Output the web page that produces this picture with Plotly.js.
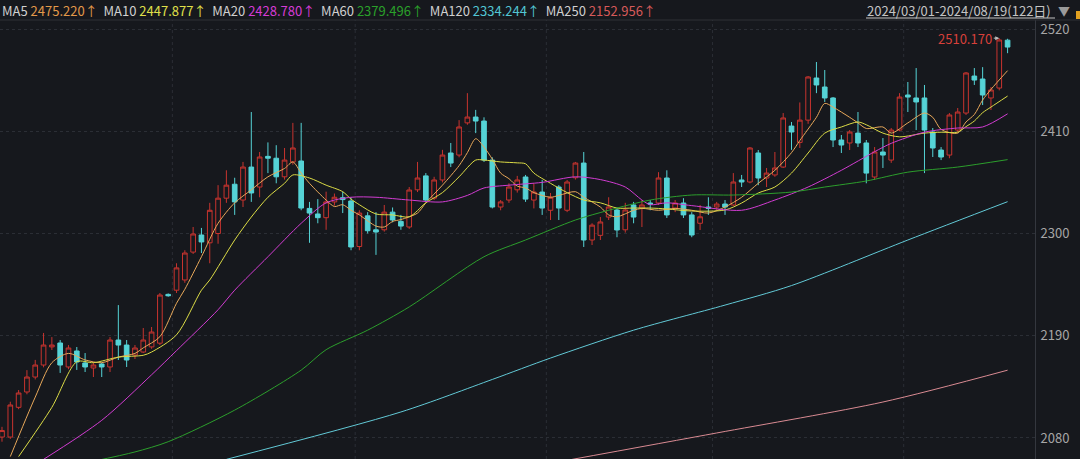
<!DOCTYPE html>
<html><head><meta charset="utf-8">
<script src="https://cdn.plot.ly/plotly-3.0.1.min.js"></script>
<style>html,body{margin:0;padding:0;background:#16181d;}#chart{width:1080px;height:459px;}</style>
</head><body><div id="chart"></div>
<script>
// ---- data ----
const openP  = [2081,2081,2113,2129.5,2145.6,2158.5,2178,2182.2,2156.4,2173.6,2160.7,2155.3,2159.6,2156.4,2185.4,2180,2169.3,2172.5,2178,2182,2234.5,2239,2250,2280,2298.4,2290,2300,2338,2353,2336,2371.5,2350,2383,2381,2361,2377,2378,2327,2321,2317,2334,2338.5,2335,2286,2319,2304,2304,2323,2313,2307,2347,2362,2338,2357.6,2386.6,2384.4,2419,2425.3,2421,2379,2328.5,2336,2347,2360.8,2336,2344.6,2325,2350,2325,2360,2375.8,2293,2298,2317.7,2325.3,2304,2330.7,2327.4,2332.8,2332.8,2359.7,2327.4,2332.8,2320,2311,2328.5,2328.5,2331.7,2330.7,2357.6,2355.4,2386.6,2359.7,2363,2371.5,2415.6,2398,2422,2467.3,2457.6,2445.8,2400.6,2397.4,2408,2397.4,2360.8,2387.7,2379,2411.3,2449,2445.8,2445.8,2409.2,2389.8,2384.4,2411.3,2429.6,2469.4,2466.2,2445.8,2456.5,2508];
const highP  = [2092,2119,2131.6,2153,2164,2193,2188.6,2185.4,2180,2177.9,2171.4,2161.8,2160.7,2188.6,2223,2185.4,2180,2198.3,2199.4,2236,2235.5,2268,2282,2307,2306,2333,2352,2368,2360,2377,2430.7,2387.7,2398,2395,2392,2419,2419,2334,2337,2345,2343,2345,2339,2325,2323,2323,2330.7,2328,2320,2350,2377,2365,2361,2390,2397.4,2422,2451,2433,2425,2382,2336,2354,2362,2363,2354,2357.6,2343.6,2352,2357.6,2377,2387.7,2311,2317.7,2339,2327.4,2333,2334,2336,2336,2366,2368,2336,2338,2323,2330.7,2339,2334,2336,2365,2363,2393,2389.8,2370.5,2387.7,2429.6,2420,2441,2469.4,2484.5,2475.9,2446.8,2406,2411.3,2430.7,2400.6,2393,2402.7,2413.5,2451,2463,2478,2459.8,2413.5,2393,2429.6,2435,2473.7,2478,2479,2457.6,2510.17,2509.5];
const lowP   = [2076,2079,2111,2127,2143,2156,2174.7,2150,2154,2153.2,2151,2145.6,2145.6,2151,2163.9,2156.4,2165,2171.4,2176,2180,2232,2236,2247,2278,2279,2268,2289,2333,2320,2328.5,2334,2339,2365,2354,2358,2374,2325,2290,2311,2304,2330,2322,2282,2282,2300,2277,2302,2312,2304,2305,2344.6,2334,2336,2355,2371.5,2382,2417,2408,2377,2327,2325,2333,2344,2334,2327,2320,2314.5,2314.5,2323,2358,2285.5,2287.6,2293,2314.5,2296,2301,2311,2307,2325,2330.7,2316.7,2323,2316.7,2296,2303.8,2320,2325,2320,2329.6,2350,2354,2352,2350,2361,2370.5,2390,2392,2418,2451,2441.5,2393,2386.6,2389.8,2393,2354,2357.6,2370.5,2376,2410,2430.7,2411.3,2365,2382.3,2379,2381,2409,2427.5,2459.8,2438.2,2432.9,2454,2494];
const closeP = [2088,2115.5,2128.4,2145.6,2158.5,2180,2180,2158.5,2176.8,2161.8,2156.4,2158.5,2156.4,2185.4,2180,2163.9,2176.8,2185.4,2194,2233.8,2233,2263,2279,2299.5,2290.9,2325,2338,2352,2334,2371.5,2343.6,2382.3,2381,2361,2379,2392,2327.4,2322,2317,2334,2339,2336.5,2285.5,2322,2303,2301.6,2323,2314.5,2308,2346.8,2359.7,2336,2357.6,2384.4,2375.8,2414.6,2425.3,2421,2379,2328.5,2334,2350,2357.6,2337,2344.6,2327.4,2339,2327.4,2355.4,2375.8,2293,2309,2312.4,2328.5,2303.8,2325.3,2317.7,2330.7,2331.7,2359.7,2320,2332.8,2320,2298.4,2318,2327,2331.7,2328.5,2355.4,2355.4,2392,2359.7,2365,2370.5,2424.3,2409.2,2422,2468.4,2459.8,2445.8,2400.6,2395.2,2409.2,2397.4,2365,2387.7,2384.4,2411.3,2446.8,2446.8,2441.5,2411.3,2392,2382.3,2427.5,2430.7,2472.7,2465.1,2449,2454.4,2508.2,2500.6];

// moving-average lines at candle indices
const ma5Idx = [1,4,6,8,10,12,14,16,17,19,21,22,24,26,28,30,32,34,35,36,37,39,40,41,42,43,45,46,47,48,50,51,53,55,56,57,58,59,60,61,62,63,64,66,67,69,70,72,73,74,76,77,79,81,83,85,87,89,91,93,95,96,98,99,100,102,103,104,106,107,109,111,112,113,115,116,117,118,119,121];
const ma5Val = [2060,2124,2161,2171,2164,2161,2167,2171,2177,2189,2225,2240,2275,2311,2333,2347,2361,2370,2377,2365,2354,2336,2329,2331,2325,2320,2308,2307,2313,2315,2322,2333,2352,2373,2387,2402,2393,2380,2365,2359,2351,2349,2344,2339,2341,2345,2339,2328.5,2320,2318,2325,2327,2325,2327,2325,2322,2328.5,2339,2354,2368,2387,2400,2425,2440,2436,2425,2419,2413,2414.6,2408,2419,2429.6,2425,2412,2408,2420,2428,2443.6,2455,2475.22];
const ma10Idx = [2,6,9,11,14,17,18,21,24,25,28,30,32,34,35,37,39,41,42,43,45,47,49,51,53,55,57,58,60,62,63,64,66,68,70,72,74,76,78,80,83,87,89,91,93,95,97,99,101,103,104,106,108,111,113,115,116,117,118,119,121];
const ma10Val = [2060,2113,2162,2161,2167,2169,2172.5,2191,2239,2250,2293,2317.7,2339,2354,2363,2359.7,2352,2345,2337,2331,2321,2320,2318,2333,2344,2361,2379,2379,2377,2376,2375,2365,2354,2344,2336,2333,2327.4,2327.4,2327.4,2326.4,2324.2,2325.3,2332.8,2343.6,2350,2365,2386.6,2408,2414.6,2420,2417,2408,2404,2408,2409,2409,2415,2421,2430,2436,2447.877];
const ma20Idx = [5,12,18,21,26,28,32,36,39,42,45,49,53,56,58,61,65,69,72,75,77,78,80,83,89,93,97,101,105,107,111,115,118,121];
const ma20Val = [2057,2099,2148,2174,2218,2239,2275,2311,2333,2339,2339,2336,2334,2341,2349,2352,2355,2361,2358,2350,2336,2331,2333,2330,2325,2336,2350,2368,2388,2397,2409,2413.5,2414.6,2428.78];
const ma60Idx = [11,16,20,28,36,39,44,49,58,63,69,73,78,83,88,95,99,104,109,115,121];
const ma60Val = [2055,2065,2076,2110,2153,2175,2196,2221,2275,2293,2314.5,2325,2336,2341.4,2341.4,2344.6,2350,2356.5,2366,2371.5,2379.496];
const ma120Idx = [27,48,59,66,76,87,95,109,121];
const ma120Val = [2057,2108,2143,2166,2196,2223,2244,2293,2334.244];
const ma250Idx = [68,86,106,121];
const ma250Val = [2056,2085.4,2118.7,2152.956];

const maNames  = ['MA5','MA10','MA20','MA60','MA120','MA250'];
const monthIdx = [21,43,66,86,109];
const yTicks   = [2080,2190,2300,2410,2520];
const dateText = '2024/03/01-2024/08/19';
const dayUnit  = '日';

// ---- styles ----
const BG = '#16181d';
const UP = '#c8342f', DOWN = '#55d3d6';
const lineColors = ['#e8a85a','#dcdc46','#d23cd2','#2c9e2c','#62c9d6','#d98a92'];
const valColors  = ['#e39a4a','#e0e04a','#d63cd6','#2aa02a','#52c6d4','#d65a5a'];

const W = 1080, H = 459, MT = 20, MR = 45;
const PW = W - MR, PH = H - MT;
const px = x => x / PW;
const py = y => 1 + (MT - y) / PH;

const idx = closeP.map((_, i) => i);
const maIdx = [ma5Idx, ma10Idx, ma20Idx, ma60Idx, ma120Idx, ma250Idx];
const maVal = [ma5Val, ma10Val, ma20Val, ma60Val, ma120Val, ma250Val];

const traces = [{
  type: 'candlestick', x: idx, open: openP, high: highP, low: lowP, close: closeP,
  increasing: {line: {color: UP, width: 1}, fillcolor: BG},
  decreasing: {line: {color: DOWN, width: 1}, fillcolor: DOWN},
  whiskerwidth: 0, hoverinfo: 'skip', showlegend: false
}];
maIdx.forEach((xs, k) => {
  traces.push({type: 'scatter', mode: 'lines', x: xs, y: maVal[k],
    line: {color: lineColors[k], width: 1, shape: 'spline', smoothing: 0.8},
    hoverinfo: 'skip', showlegend: false});
});

// header
const nb = '\u00a0';
let head = '';
maNames.forEach((n, k) => {
  const v = maVal[k][maVal[k].length - 1].toFixed(3);
  head += (k ? nb + nb : '') + n + nb + '<span style="color:' + valColors[k] + '">' + v + '↑</span>';
});

let hiI = 0;
highP.forEach((h, i) => { if (h > highP[hiI]) hiI = i; });

const shapes = [
  {type: 'line', xref: 'paper', yref: 'paper', x0: 0, x1: px(W), y0: 1, y1: 1, line: {color: '#2e3036', width: 1}},
  {type: 'line', xref: 'paper', yref: 'paper', x0: px(866), x1: px(1055), y0: py(18), y1: py(18), line: {color: '#c4c4c4', width: 1}},
  {type: 'rect', xref: 'paper', yref: 'paper', x0: px(1076), x1: px(1081), y0: py(19), y1: py(11), fillcolor: '#e0a020', line: {width: 0}}
];
monthIdx.forEach(m => shapes.push({type: 'line', xref: 'x', yref: 'paper', x0: m - 0.5, x1: m - 0.5, y0: 0, y1: 1,
  line: {color: '#2b2e35', width: 1, dash: 'dot'}, layer: 'below'}));

const font = '"Noto Sans CJK SC", "Noto Sans", sans-serif';
const annotations = [
  {xref: 'paper', yref: 'paper', x: 0, y: py(11), xanchor: 'left', yanchor: 'middle', showarrow: false,
   text: head, font: {family: font, size: 13, color: '#d0d0d0'}},
  {xref: 'paper', yref: 'paper', x: px(865), y: py(10), xanchor: 'left', yanchor: 'middle', showarrow: false,
   text: dateText + '(' + closeP.length + dayUnit + ')', font: {family: font, size: 13, color: '#c4c4c4'}},
  {xref: 'paper', yref: 'paper', x: px(1056), y: py(10), xanchor: 'left', yanchor: 'middle', showarrow: false,
   text: '▼', font: {family: font, size: 12, color: '#9a9a9a'}},
  {xref: 'x', yref: 'y', x: hiI, y: highP[hiI], text: highP[hiI].toFixed(3), showarrow: true,
   ax: -34, ay: 0, arrowhead: 2, arrowsize: 0.8, arrowwidth: 1, arrowcolor: '#bdbdbd', standoff: 0,
   font: {family: font, size: 13, color: '#d8403a'}}
];

const layout = {
  width: W, height: H, paper_bgcolor: BG, plot_bgcolor: BG,
  margin: {l: 0, r: MR, t: MT, b: 0, pad: 0},
  boxgap: 0.2, showlegend: false, hovermode: false,
  xaxis: {range: [-0.24, 124.3], visible: false, showgrid: false, zeroline: false, rangeslider: {visible: false}, fixedrange: true},
  yaxis: {side: 'right', range: [2057.4, 2529.7], tickvals: yTicks, ticktext: yTicks.map(String),
    showline: true, linecolor: '#34373e', linewidth: 1, showgrid: true, gridcolor: '#2b2e35', griddash: 'dot',
    zeroline: false, ticks: '', ticklabelstandoff: 2,
    tickfont: {family: font, size: 13, color: '#a6a6a6'}, fixedrange: true},
  shapes: shapes, annotations: annotations
};
Plotly.newPlot('chart', traces, layout, {staticPlot: true, displayModeBar: false});
</script></body></html>
